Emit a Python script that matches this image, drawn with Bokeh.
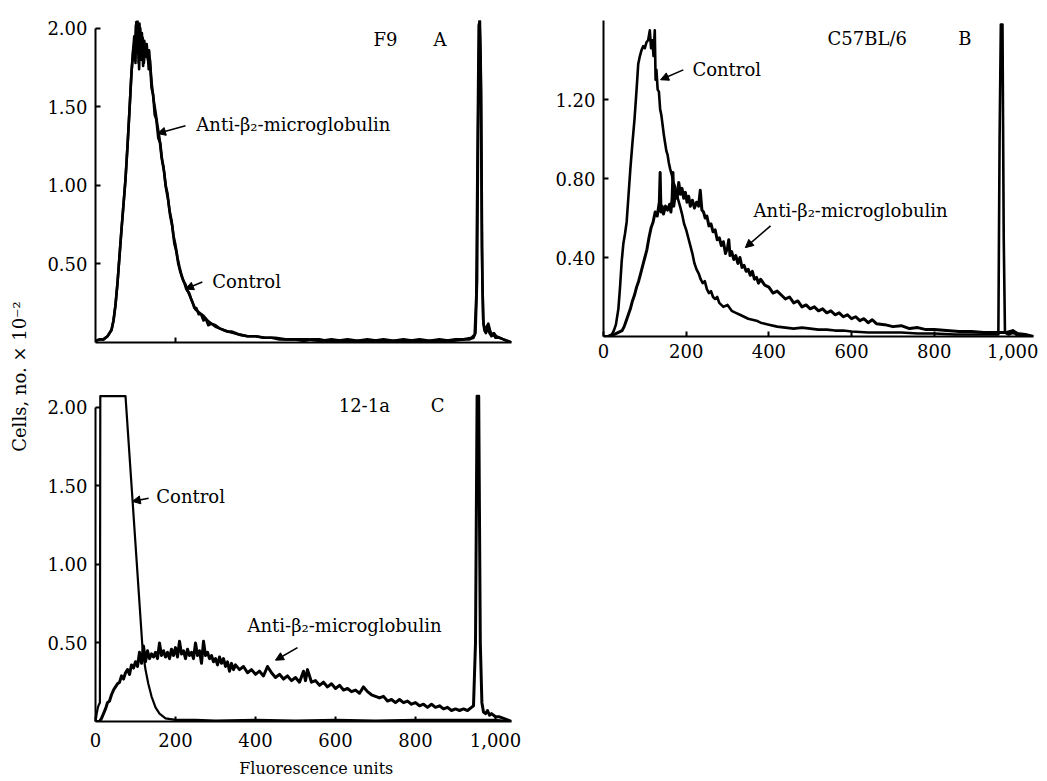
from math import pi
from bokeh.plotting import figure
from bokeh.models import Range1d, FixedTicker, NumeralTickFormatter, Label, Arrow, NormalHead
from bokeh.layouts import row, column
from bokeh.embed import file_html
from bokeh.resources import INLINE

FONT = "DejaVu Serif"

# ---------------- data ----------------
# Panel A: F9
A_anti_x = [0,10,20,30,40,45,50,55,60,65,70,75,80,85,90,95,98,101,103,105,108,110,113,116,119,122,125,128,131,134,137,141,145,150,155,160,165,170,175,180,185,190,195,200,205,210,215,220,225,230,235,240,245,250,260,270,280,290,300,310,320,330,340,350,360,380,400,420,440,460,480,500,520,540,560,580,600,630,660,690,720,750,780,810,840,870,900,920,935,945,950,954,957,960,963,966,969,972,976,980,985,990,995,1000,1010,1020,1030,1040]
A_anti_y = [0.01,0.02,0.02,0.04,0.08,
            0.14,0.24,0.38,0.55,0.72,
            0.88,1.04,1.25,1.48,1.72,
            1.88,1.80,2.02,1.92,2.05,
            1.78,2.03,1.82,1.97,1.76,
            1.92,1.84,1.90,1.80,1.86,
            1.76,1.64,1.55,1.47,1.38,
            1.30,1.18,1.12,1.00,0.95,
            0.84,0.78,0.68,0.62,0.54,
            0.48,0.43,0.39,0.37,0.33,
            0.31,0.27,0.24,0.21,0.19,
            0.17,0.14,0.12,0.11,0.09,
            0.08,0.07,0.07,0.06,0.05,
            0.04,0.04,0.03,0.03,0.02,
            0.02,0.02,0.01,0.02,0.02,
            0.01,0.01,0.02,0.01,0.01,
            0.02,0.01,0.01,0.02,0.01,
            0.01,0.02,0.02,0.02,0.03,
            0.06,0.4,1.5,2.05,1.8,
            0.6,0.15,0.08,0.06,0.09,
            0.06,0.04,0.05,0.03,0.03,
            0.02,0.01,0.0]
A_ctrl_x = [0,10,20,30,40,45,50,55,60,65,70,75,80,85,90,94,97,100,102,104,107,109,112,115,118,121,124,127,130,133,136,140,144,148,152,157,162,167,172,177,182,187,192,197,202,207,212,217,222,227,232,237,242,247,252,258,264,270,276,282,290,300,310,320,330,345,360,380,400,425,450,475,500,530,560,590,620,650,680,710,740,770,800,830,860,890,920,940,948,952,955,958,961,964,967,970,974,978,982,986,990,996,1002,1010,1020,1030,1040]
A_ctrl_y = [0.01,0.02,0.02,0.04,0.08,
            0.14,0.24,0.38,0.55,0.72,
            0.88,1.04,1.25,1.48,1.72,
            1.86,1.95,1.78,2.04,1.85,
            1.96,1.74,2.00,1.80,1.94,
            1.78,1.88,1.82,1.86,1.74,
            1.80,1.62,1.58,1.45,1.42,
            1.30,1.27,1.15,1.08,0.97,
            0.90,0.80,0.74,0.63,0.58,
            0.50,0.45,0.41,0.38,0.34,
            0.32,0.29,0.26,0.22,0.22,
            0.18,0.18,0.14,0.15,0.11,
            0.12,0.10,0.09,0.08,0.07,
            0.06,0.05,0.04,0.04,0.03,
            0.03,0.02,0.02,0.02,0.01,
            0.02,0.01,0.01,0.02,0.01,
            0.01,0.02,0.01,0.01,0.02,
            0.01,0.02,0.03,0.05,0.3,
            1.2,2.02,2.05,1.6,0.4,
            0.12,0.07,0.10,0.12,0.08,
            0.05,0.06,0.04,0.03,0.02,
            0.01,0.0]

# Panel B: C57BL/6
B_ctrl_x = [0,10,20,25,30,36,40,44,48,52,56,60,65,70,75,80,84,88,92,96,100,104,108,112,115,118,121,124,126,128,131,134,137,140,143,146,149,152,155,158,161,165,169,173,177,181,185,190,195,200,205,210,215,220,225,230,235,240,245,250,255,260,265,270,275,280,290,300,310,320,330,340,350,360,370,380,390,400,420,440,460,480,500,520,540,560,580,600,640,680,720,760,800,850,900,940,955,958,961,965,968,971,980,990,1000,1040]
B_ctrl_y = [0.0,0.0,0.01,0.03,0.06,
            0.14,0.25,0.38,0.47,0.52,
            0.58,0.70,0.85,0.98,1.10,
            1.25,1.38,1.42,1.45,1.47,
            1.46,1.49,1.50,1.55,1.46,
            1.50,1.42,1.55,1.30,1.35,
            1.25,1.24,1.15,1.12,1.07,
            1.02,0.98,0.94,0.92,0.88,
            0.85,0.82,0.78,0.76,0.72,
            0.69,0.66,0.62,0.57,0.54,
            0.50,0.46,0.42,0.37,0.34,
            0.32,0.29,0.27,0.28,0.24,
            0.22,0.23,0.20,0.19,0.20,
            0.17,0.15,0.16,0.13,0.12,
            0.11,0.10,0.09,0.085,0.08,
            0.07,0.065,0.06,0.05,0.045,
            0.04,0.045,0.04,0.035,0.035,
            0.03,0.03,0.025,0.02,0.02,
            0.02,0.015,0.015,0.01,0.01,
            0.01,0.01,1.0,1.58,1.58,
            0.5,0.02,0.01,0.02,0.01,
            0.0]
B_anti_x = [0,15,25,35,45,50,55,60,65,70,75,80,85,90,95,100,105,110,115,120,125,130,135,137,139,142,145,150,155,160,163,166,168,170,174,178,182,186,190,194,198,202,206,210,215,220,225,230,234,238,242,246,250,255,260,265,270,275,280,285,290,295,300,303,306,310,315,320,325,330,335,340,345,350,355,360,365,370,375,380,390,400,410,420,430,440,450,460,470,480,490,500,510,520,530,540,550,560,570,580,590,600,610,620,630,640,650,660,680,700,720,740,760,780,800,830,860,890,920,950,975,990,1000,1020,1040]
B_anti_y = [0.0,0.0,0.01,0.02,0.03,
            0.05,0.08,0.11,0.14,0.18,
            0.21,0.25,0.28,0.32,0.36,
            0.40,0.44,0.50,0.55,0.58,
            0.63,0.61,0.68,0.83,0.63,
            0.66,0.62,0.66,0.64,0.67,
            0.63,0.70,0.83,0.66,0.73,
            0.70,0.78,0.72,0.75,0.70,
            0.73,0.68,0.71,0.66,0.69,
            0.65,0.68,0.66,0.74,0.64,
            0.63,0.60,0.61,0.56,0.57,
            0.53,0.54,0.49,0.50,0.46,
            0.48,0.42,0.45,0.49,0.41,
            0.43,0.39,0.41,0.37,0.40,
            0.35,0.36,0.33,0.34,0.31,
            0.33,0.29,0.30,0.27,0.29,
            0.26,0.25,0.22,0.23,0.21,
            0.19,0.20,0.17,0.18,0.15,
            0.16,0.14,0.15,0.13,0.14,
            0.12,0.13,0.11,0.12,0.10,
            0.11,0.09,0.10,0.08,0.09,
            0.07,0.085,0.065,0.06,0.05,
            0.055,0.04,0.045,0.035,0.035,
            0.03,0.025,0.025,0.02,0.02,
            0.02,0.03,0.015,0.01,0.0]

# Panel C: 12-1a
C_ctrl_x = [0,3,6,9,11,12,75,118,125,132,140,150,160,175,200,250,300,400,500,600,700,800,900,1000,1040]
C_ctrl_y = [0.0,0.05,0.09,0.11,0.12,2.07,2.07,0.45,0.33,0.24,0.16,0.09,0.05,0.02,0.01,0.01,0.005,0.01,0.005,0.01,0.005,0.01,0.01,0.01,0.0]
C_anti_x = [0,10,15,20,25,30,35,40,45,50,55,60,65,70,75,80,85,90,95,100,105,110,115,120,125,130,135,140,145,150,155,160,165,170,175,180,185,190,195,200,205,210,215,220,225,230,235,240,245,250,255,260,265,270,275,280,285,290,295,300,305,310,315,320,325,330,335,340,345,350,360,370,380,390,400,410,420,430,440,450,460,470,480,490,500,510,520,525,530,540,550,560,570,580,590,600,610,620,630,640,650,660,670,680,690,700,710,720,730,740,750,760,770,780,790,800,810,820,830,840,850,860,870,880,890,900,910,920,930,940,945,950,954,958,962,966,970,975,980,985,990,1000,1010,1020,1030,1040]
C_anti_y = [0.0,0.0,0.02,0.05,0.08,
            0.12,0.13,0.17,0.20,0.22,
            0.24,0.25,0.29,0.27,0.31,
            0.33,0.30,0.36,0.34,0.38,
            0.35,0.44,0.37,0.48,0.38,
            0.45,0.40,0.43,0.41,0.44,
            0.40,0.50,0.42,0.45,0.41,
            0.44,0.40,0.46,0.42,0.47,
            0.41,0.51,0.43,0.45,0.40,
            0.46,0.42,0.44,0.40,0.50,
            0.42,0.45,0.37,0.51,0.42,
            0.44,0.40,0.42,0.38,0.40,
            0.36,0.41,0.37,0.40,0.35,
            0.38,0.32,0.37,0.33,0.36,
            0.33,0.35,0.31,0.33,0.30,
            0.32,0.29,0.35,0.31,0.28,
            0.30,0.27,0.29,0.26,0.28,
            0.25,0.32,0.26,0.33,0.25,
            0.26,0.23,0.25,0.22,0.24,
            0.21,0.23,0.20,0.21,0.19,
            0.20,0.18,0.22,0.19,0.17,
            0.16,0.15,0.16,0.13,0.14,
            0.12,0.14,0.12,0.13,0.11,
            0.12,0.10,0.11,0.09,0.11,
            0.09,0.10,0.08,0.09,0.07,
            0.08,0.07,0.08,0.07,0.09,
            0.10,0.5,2.07,2.07,0.5,
            0.12,0.06,0.05,0.07,0.04,
            0.05,0.03,0.03,0.02,0.01,
            0.0]

X_TICKS = [0, 200, 400, 600, 800, 1000]
A_X_MINOR = [200]
A_Y_TICKS = [0.5, 1.0, 1.5, 2.0]
B_Y_TICKS = [0.4, 0.8, 1.2]
C_Y_TICKS = [0.5, 1.0, 1.5, 2.0]


def panel(x_end, y_end, fw, fh, bl, br, bt, bb):
    p = figure(frame_width=fw, frame_height=fh,
               x_range=Range1d(0, x_end), y_range=Range1d(0, y_end),
               output_backend="svg", toolbar_location=None,
               min_border_left=bl, min_border_right=br,
               min_border_top=bt, min_border_bottom=bb)
    p.xgrid.visible = False
    p.ygrid.visible = False
    p.outline_line_color = None
    for ax in (p.xaxis[0], p.yaxis[0]):
        ax.axis_line_width = 2
        ax.axis_line_color = "black"
        ax.major_tick_in = 5
        ax.major_tick_out = 0
        ax.major_tick_line_width = 2
        ax.major_tick_line_color = "black"
        ax.minor_tick_line_color = None
        ax.major_label_text_font = FONT
        ax.major_label_text_font_size = "18px"
        ax.major_label_text_color = "black"
    p.xaxis[0].formatter = NumeralTickFormatter(format="0,0")
    p.yaxis[0].formatter = NumeralTickFormatter(format="0.00")
    p.yaxis[0].major_label_standoff = 8
    return p


def curve(p, xs, ys, w=3.0):
    p.line(xs, ys, line_color="black", line_width=w, line_join="round")


def note(p, x, y, text, size="18px"):
    p.add_layout(Label(x=x, y=y, text=text, text_font=FONT, text_font_size=size,
                       text_color="black", text_baseline="middle", text_align="left"))


def arrow(p, x0, y0, x1, y1):
    p.add_layout(Arrow(end=NormalHead(size=8, fill_color="black", line_color="black", line_width=1),
                       x_start=x0, y_start=y0, x_end=x1, y_end=y1,
                       line_color="black", line_width=1.6))


# ---------------- Panel A ----------------
pA = panel(1040, 2.05, 416, 322, 57, 30, 14, 36)
pA.xaxis[0].ticker = FixedTicker(ticks=[], minor_ticks=A_X_MINOR)
pA.xaxis[0].minor_tick_in = 5
pA.xaxis[0].minor_tick_out = 0
pA.xaxis[0].minor_tick_line_width = 2
pA.xaxis[0].minor_tick_line_color = "black"
pA.yaxis[0].ticker = FixedTicker(ticks=A_Y_TICKS)
pA.yaxis[0].bounds = (0, 2.0)
curve(pA, A_ctrl_x, A_ctrl_y, w=2.6)
curve(pA, A_anti_x, A_anti_y, w=2.6)
note(pA, 695, 1.93, "F9")
note(pA, 845, 1.93, "A")
note(pA, 252, 1.39, "Anti-β₂-microglobulin")
arrow(pA, 225, 1.38, 155, 1.33)
note(pA, 292, 0.39, "Control")
arrow(pA, 267, 0.385, 225, 0.34)

# ---------------- Panel B ----------------
pB = panel(1040, 1.60, 430, 316, 62, 5, 20, 36)
pB.xaxis[0].ticker = FixedTicker(ticks=X_TICKS)
pB.xaxis[0].major_label_standoff = 7
pB.yaxis[0].ticker = FixedTicker(ticks=B_Y_TICKS)
curve(pB, B_ctrl_x, B_ctrl_y, w=2.6)
curve(pB, B_anti_x, B_anti_y)
note(pB, 542, 1.51, "C57BL/6")
note(pB, 858, 1.51, "B")
note(pB, 215, 1.35, "Control")
arrow(pB, 193, 1.35, 138, 1.30)
note(pB, 363, 0.64, "Anti-β₂-microglobulin")
arrow(pB, 404, 0.56, 343, 0.45)

# ---------------- Panel C ----------------
pC = panel(1040, 2.08, 416, 327, 57, 30, 22, 56)
pC.xaxis[0].ticker = FixedTicker(ticks=X_TICKS)
pC.xaxis[0].major_label_standoff = 11
pC.yaxis[0].ticker = FixedTicker(ticks=C_Y_TICKS)
pC.yaxis[0].bounds = (0, 2.0)
pC.xaxis[0].axis_label = "\u00a0\u00a0\u00a0\u00a0\u00a0Fluorescence units"
pC.xaxis[0].axis_label_text_font = FONT
pC.xaxis[0].axis_label_text_font_size = "16px"
pC.xaxis[0].axis_label_text_font_style = "normal"
pC.xaxis[0].axis_label_text_color = "black"
pC.xaxis[0].axis_label_standoff = 9
curve(pC, C_ctrl_x, C_ctrl_y, w=2.2)
curve(pC, C_anti_x, C_anti_y)
note(pC, 608, 2.01, "12-1a")
note(pC, 838, 2.01, "C")
note(pC, 152, 1.43, "Control")
arrow(pC, 133, 1.42, 92, 1.40)
note(pC, 380, 0.61, "Anti-β₂-microglobulin")
arrow(pC, 505, 0.47, 450, 0.39)

# ---------------- shared y label ----------------
H = 779
ylab = figure(width=38, height=H, x_range=Range1d(0, 1), y_range=Range1d(0, 1),
              output_backend="svg", toolbar_location=None,
              x_axis_location=None, y_axis_location=None, min_border=0)
ylab.outline_line_color = None
ylab.xgrid.visible = False
ylab.ygrid.visible = False
ylab.add_layout(Label(x=19 / 38, y=1 - 376 / H, text="Cells, no. × 10⁻²", angle=pi / 2,
                      text_font=FONT, text_font_size="18px", text_color="black",
                      text_align="center", text_baseline="middle"))

layout = row(ylab, column(row(pA, pB), pC))
open("out.html", "w").write(file_html(layout, INLINE))
